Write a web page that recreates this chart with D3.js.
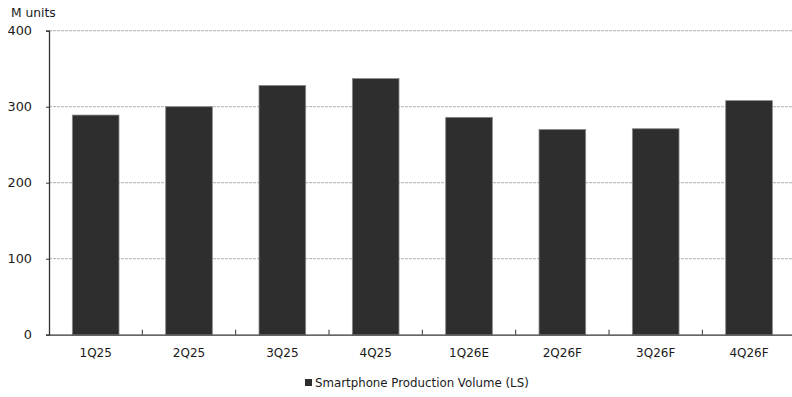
<!DOCTYPE html>
<html><head><meta charset="utf-8">
<script src="https://cdn.jsdelivr.net/npm/d3@7"></script>
<style>
html,body{margin:0;padding:0;background:#fff;}
svg{display:block;}
text{font-family:"DejaVu Sans",Verdana,sans-serif;fill:#1a1a1a;}
</style></head>
<body>
<script>
const categories = ["1Q25","2Q25","3Q25","4Q25","1Q26E","2Q26F","3Q26F","4Q26F"];
const production = [289, 300, 328, 337, 286, 270, 271, 308];
const yTicks = [0, 100, 200, 300, 400];
const seriesName = "Smartphone Production Volume (LS)";
const unitLabel = "M units";

(function(){
const W = 792, H = 397;
const svg = d3.select("body").append("svg").attr("width", W).attr("height", H);

const mL = 49, mR = 795.7, mT = 30.7, mB = 334.7;
const x = d3.scaleBand().domain(categories).range([mL, mR]).paddingInner(0.5).paddingOuter(0.25);
const y = d3.scaleLinear().domain([0, 400]).range([mB, mT]);

// gridlines
svg.append("g").selectAll("line").data(yTicks.filter(d => d > 0)).join("line")
  .attr("x1", mL).attr("x2", mR)
  .attr("y1", d => y(d)).attr("y2", d => y(d))
  .attr("stroke", "#b0b0b0").attr("stroke-width", 1).attr("stroke-dasharray", "3,1");

// bars
svg.append("g").selectAll("rect").data(production).join("rect")
  .attr("x", (d, i) => x(categories[i]))
  .attr("width", x.bandwidth())
  .attr("y", d => y(d))
  .attr("height", d => y(0) - y(d))
  .attr("fill", "#2e2e2e")
  .attr("stroke", "#8a8a8a").attr("stroke-width", 0.8);

// y axis
const yAxis = d3.axisLeft(y).tickValues(yTicks).tickSize(3).tickPadding(14).tickFormat(d3.format("d"));
const gy = svg.append("g").attr("transform", `translate(${mL},0)`).call(yAxis);
gy.select(".domain").attr("stroke", "#333").attr("stroke-width", 1.3);
gy.selectAll(".tick line").attr("stroke", "#333");
gy.selectAll("text").style("font-size", "12.8px").attr("fill", "#1a1a1a");

// x axis
const xAxis = d3.axisBottom(x).tickSize(0).tickPadding(14);
const gx = svg.append("g").attr("transform", `translate(0,${mB})`).call(xAxis);
gx.select(".domain").attr("stroke", "#333").attr("stroke-width", 1.3);
gx.selectAll("text").style("font-size", "12px").attr("fill", "#1a1a1a");
// category separators (inward ticks)
svg.append("g").selectAll("line").data(categories.slice(1)).join("line")
  .attr("x1", d => x(d) - x.bandwidth() * 0.5).attr("x2", d => x(d) - x.bandwidth() * 0.5)
  .attr("y1", mB).attr("y2", mB - 5)
  .attr("stroke", "#333").attr("stroke-width", 1);

// unit label
svg.append("text").attr("x", 11).attr("y", 17).style("font-size", "12.3px").text(unitLabel);

// legend
const lg = svg.append("g");
lg.append("rect").attr("x", 305).attr("y", 379).attr("width", 7).attr("height", 7).attr("fill", "#2e2e2e");
lg.append("text").attr("x", 315).attr("y", 387).style("font-size", "11.8px").text(seriesName);
})();
</script>
</body></html>
